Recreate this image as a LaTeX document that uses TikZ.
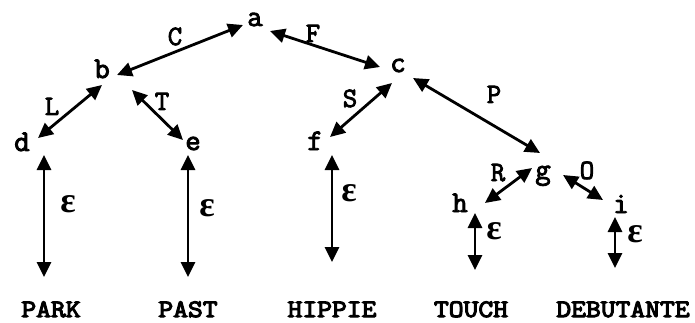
\documentclass[tikz,border=0pt]{standalone}
\usepackage{fontspec}
\newfontfamily\twfont{Latin Modern Mono}[FakeBold=3]
\newfontfamily\twwide{Latin Modern Mono}[FakeBold=4.5,FakeStretch=1.15]
\newfontfamily\epsfont{Liberation Serif}
\usetikzlibrary{arrows.meta}
\tikzset{
  vert/.style={inner sep=0pt, anchor=base, font=\fontsize{30}{32}\twfont},
  elab/.style={inner sep=0pt, anchor=base, font=\fontsize{28}{30}\twfont},
  word/.style={inner sep=0pt, anchor=base, font=\fontsize{25}{28}\twwide},
  eps/.style={inner sep=0pt, font=\fontsize{36}{36}\epsfont\bfseries},
  arr/.style={line width=2.8pt, {Triangle[length=15pt,width=14pt]}-{Triangle[length=15pt,width=14pt]}},
}
\begin{document}
\begin{tikzpicture}[x=1pt,y=-1pt]
\useasboundingbox (0,0) rectangle (695,323);
% tree letters
\node[vert] (a) at (255,26) {a};
\node[vert] (b) at (102,78) {b};
\node[vert] (c) at (398,72) {c};
\node[vert] (d) at (22,151) {d};
\node[vert] (e) at (193,150) {e};
\node[vert] (f) at (315,150) {f};
\node[vert] (g) at (543,179) {g};
\node[vert] (h) at (460,212) {h};
\node[vert] (i) at (621,213) {i};
% words
\node[word] (park) at (51,317) {PARK};
\node[word] (past) at (188,317) {PAST};
\node[word] (hippie) at (332,317) {HIPPIE};
\node[word] (touch) at (471,317) {TOUCH};
\node[word] (debutante) at (623,317) {DEBUTANTE};
% arrow ends
\coordinate (ba) at (117,75); \coordinate (ab) at (243,25);
\coordinate (ac) at (270,31); \coordinate (ca) at (380,67);
\coordinate (db) at (38,138); \coordinate (bd) at (102,85);
\coordinate (be) at (132,90); \coordinate (eb) at (183,140);
\coordinate (fc) at (330,137); \coordinate (cf) at (392,83);
\coordinate (cg) at (413,78); \coordinate (gc) at (540,153);
\coordinate (hg) at (485,203); \coordinate (gh) at (532,168);
\coordinate (gi) at (563,175); \coordinate (ig) at (603,200);
\coordinate (dt) at (44,155); \coordinate (db2) at (44,277);
\coordinate (et) at (188,155); \coordinate (eb2) at (188,277);
\coordinate (ft) at (332,155); \coordinate (fb2) at (332,262);
\coordinate (ht) at (475,213); \coordinate (hb2) at (475,270);
\coordinate (it) at (615,217); \coordinate (ib2) at (615,268);
% arrows
\draw[arr] (ba) -- (ab);
\draw[arr] (ac) -- (ca);
\draw[arr] (db) -- (bd);
\draw[arr] (be) -- (eb);
\draw[arr] (fc) -- (cf);
\draw[arr] (cg) -- (gc);
\draw[arr] (hg) -- (gh);
\draw[arr] (gi) -- (ig);
\draw[arr] (dt) -- (db2);
\draw[arr] (et) -- (eb2);
\draw[arr] (ft) -- (fb2);
\draw[arr] (ht) -- (hb2);
\draw[arr] (it) -- (ib2);
% edge labels
\node[elab] (C) at (175,45) {C};
\node[elab] (F) at (313,42) {F};
\node[elab] (L) at (52,115) {L};
\node[elab] (T) at (162,110) {T};
\node[elab] (S) at (350,107) {S};
\node[elab] (P) at (494,103) {P};
\node[elab] (R) at (498,181) {R};
\node[elab] (O) at (587,179) {O};
% epsilons
\node[eps] (e1) at (68,204) {ε};
\node[eps] (e2) at (207,208) {ε};
\node[eps] (e3) at (349,193) {ε};
\node[eps] (e4) at (494,231) {ε};
\node[eps] (e5) at (635,234) {ε};
\end{tikzpicture}
\end{document}
